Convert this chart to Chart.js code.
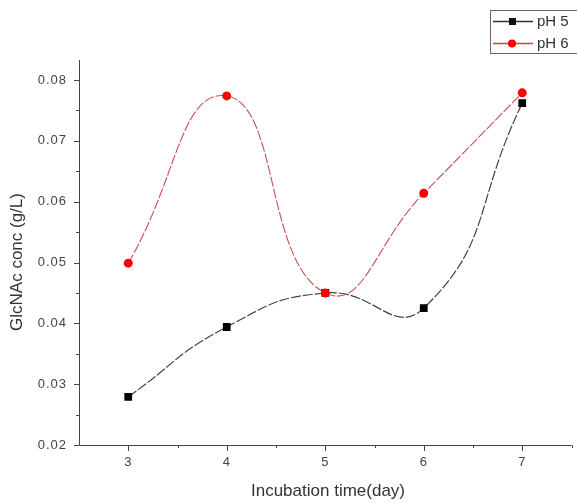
<!DOCTYPE html>
<html>
<head>
<meta charset="utf-8">
<script src="https://cdn.jsdelivr.net/npm/chart.js@4/dist/chart.umd.min.js"></script>
<style>
html,body{margin:0;padding:0;background:#fff;}
#wrap{width:577px;height:503px;position:relative;}
</style>
</head>
<body>
<div id="wrap"><canvas id="c" width="577" height="503"></canvas></div>
<script>
const days = [3, 4, 5, 6, 7];
const ph5 = [0.0279, 0.0394, 0.0450, 0.0425, 0.0762];
const ph6 = [0.0499, 0.0774, 0.0450, 0.0614, 0.0779];
const seriesNames = ['pH 5', 'pH 6'];
const xTicks = [3, 4, 5, 6, 7];
const yTicks = [0.02, 0.03, 0.04, 0.05, 0.06, 0.07, 0.08];
const xTitle = 'Incubation time(day)';
const yTitle = 'GlcNAc conc (g/L)';

const pts = (arr) => days.map((d, i) => ({x: d, y: arr[i]}));
const FONT = 'Liberation Sans, Arial, sans-serif';

const tickPlugin = {
  id: 'ticksAndLegend',
  afterDraw(chart) {
    const ctx = chart.ctx;
    const xs = chart.scales.x, ys = chart.scales.y;
    const ca = chart.chartArea;
    ctx.save();
    ctx.strokeStyle = '#444';
    ctx.lineWidth = 1;
    ctx.beginPath();
    ctx.moveTo(ca.left + 0.5, ca.top);
    ctx.lineTo(ca.left + 0.5, ca.bottom + 0.5);
    ctx.lineTo(ca.right, ca.bottom + 0.5);
    ctx.stroke();
    for (let v = 0.02; v <= 0.0834; v += 0.005) {
      const y = Math.round(ys.getPixelForValue(v)) + 0.5;
      const major = Math.abs(Math.round(v * 100) - v * 100) < 1e-6;
      ctx.beginPath();
      ctx.moveTo(ca.left, y);
      ctx.lineTo(ca.left - (major ? 5 : 3), y);
      ctx.stroke();
    }
    for (let v = 3; v <= 7.5; v += 0.5) {
      const x = Math.round(xs.getPixelForValue(v)) + 0.5;
      const major = Number.isInteger(v);
      ctx.beginPath();
      ctx.moveTo(x, ca.bottom);
      ctx.lineTo(x, ca.bottom + (major ? 6 : 3));
      ctx.stroke();
    }
    ctx.fillStyle = '#444';
    ctx.font = '13px ' + FONT;
    if ('letterSpacing' in ctx) ctx.letterSpacing = '1px';
    ctx.textAlign = 'right';
    ctx.textBaseline = 'middle';
    yTicks.forEach(v => {
      ctx.fillText(v.toFixed(2), ca.left - 12, ys.getPixelForValue(v));
    });
    ctx.textAlign = 'center';
    ctx.textBaseline = 'top';
    xTicks.forEach(v => {
      ctx.fillText(String(v), xs.getPixelForValue(v), ca.bottom + 11);
    });
    if ('letterSpacing' in ctx) ctx.letterSpacing = '0px';
    ctx.font = '17px ' + FONT;
    ctx.fillStyle = '#333';
    ctx.textAlign = 'center';
    ctx.textBaseline = 'middle';
    ctx.fillText(xTitle, 328, 491);
    ctx.save();
    ctx.translate(17, 262);
    ctx.rotate(-Math.PI / 2);
    ctx.fillText(yTitle, 0, 0);
    ctx.restore();
    ctx.strokeStyle = '#666';
    ctx.lineWidth = 1;
    ctx.strokeRect(490.5, 10.5, 100, 43);
    const rows = [
      {y: 21, color: '#111', line: '#333', shape: 'rect', name: seriesNames[0]},
      {y: 43, color: '#ff0000', line: '#d04040', shape: 'circle', name: seriesNames[1]}
    ];
    rows.forEach(r => {
      ctx.strokeStyle = r.line;
      ctx.lineWidth = 1.5;
      ctx.beginPath();
      ctx.moveTo(493, r.y + 0.5);
      ctx.lineTo(533, r.y + 0.5);
      ctx.stroke();
      ctx.fillStyle = r.color;
      if (r.shape === 'rect') {
        ctx.fillRect(509, r.y - 3, 7, 7);
      } else {
        ctx.beginPath();
        ctx.arc(512, r.y + 0.5, 4, 0, Math.PI * 2);
        ctx.fill();
      }
      ctx.fillStyle = '#333';
      ctx.font = '15px ' + FONT;
      ctx.textAlign = 'left';
      ctx.textBaseline = 'middle';
      ctx.fillText(r.name, 537, r.y + 1);
    });
    ctx.restore();
  }
};

new Chart(document.getElementById('c'), {
  type: 'line',
  data: {
    datasets: [
      {
        label: seriesNames[0],
        data: pts(ph5),
        borderColor: '#444',
        borderWidth: 1.2,
        borderDash: [10, 2],
        pointStyle: 'rect',
        pointRadius: 5.5,
        pointBackgroundColor: '#000',
        pointBorderWidth: 0,
        tension: 0.5,
        order: 2
      },
      {
        label: seriesNames[1],
        data: pts(ph6),
        borderColor: '#c85050',
        borderWidth: 1.1,
        borderDash: [10, 2],
        pointStyle: 'circle',
        pointRadius: 4.5,
        pointBackgroundColor: '#ff0000',
        pointBorderWidth: 0,
        tension: 0.5,
        order: 1
      }
    ]
  },
  options: {
    responsive: false,
    animation: false,
    events: [],
    layout: {padding: {top: 60, right: 3, left: 0, bottom: 0}},
    plugins: {legend: {display: false}, tooltip: {enabled: false}},
    scales: {
      x: {
        type: 'linear',
        min: 2.5, max: 7.5,
        grid: {display: false},
        border: {display: false},
        ticks: {display: false},
        afterFit(s) { s.height = 58; }
      },
      y: {
        type: 'linear',
        min: 0.02, max: 0.0833,
        grid: {display: false},
        border: {display: false},
        ticks: {display: false},
        afterFit(s) { s.width = 79; }
      }
    }
  },
  plugins: [tickPlugin]
});
</script>
</body>
</html>
